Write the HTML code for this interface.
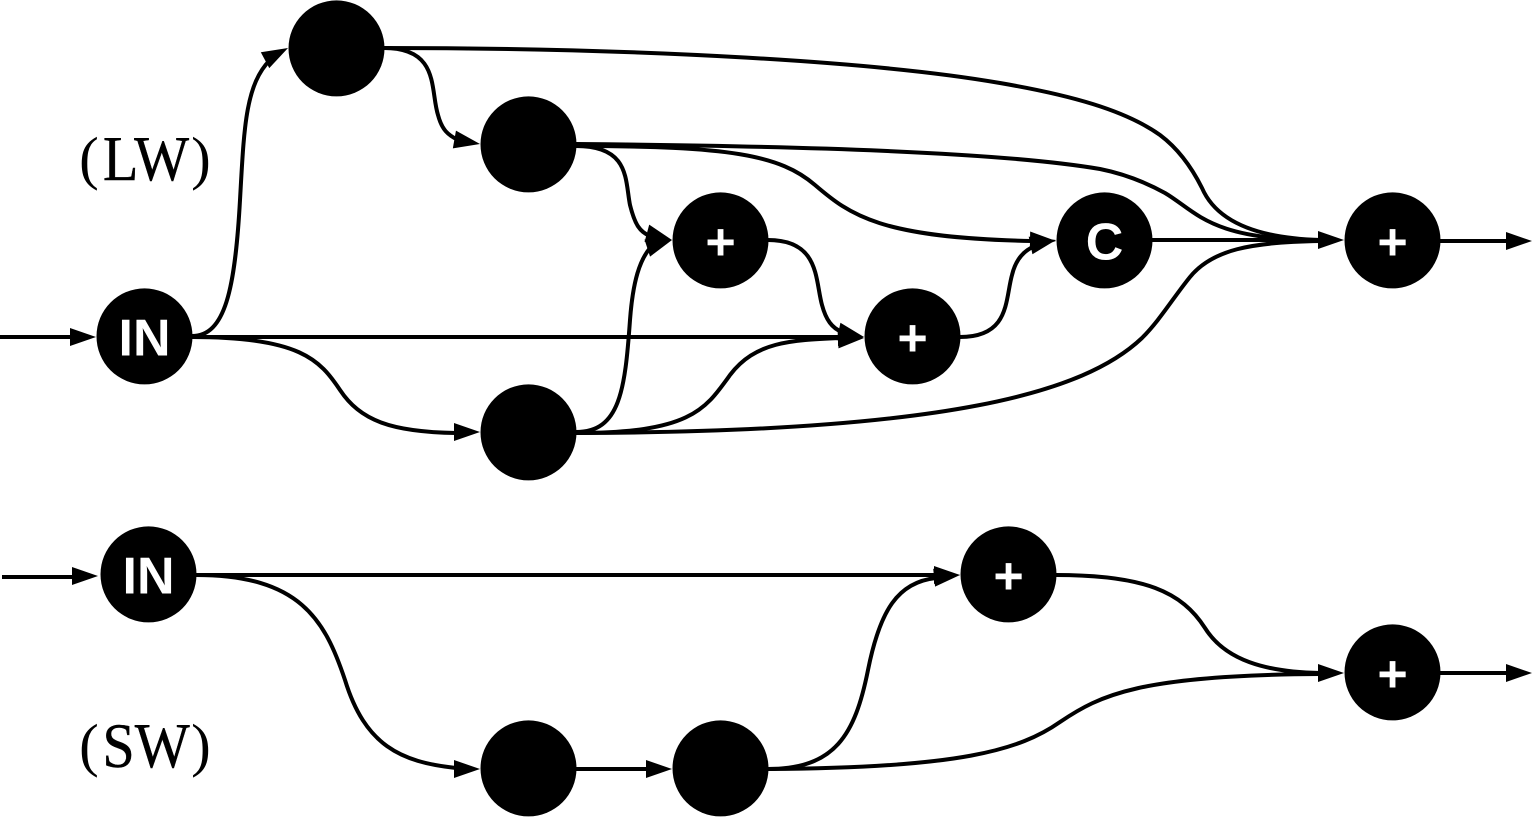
<!DOCTYPE html>
<html>
<head>
<meta charset="utf-8">
<style>
html,body{margin:0;padding:0;background:#fff;}
svg{display:block;}
.e{fill:none;stroke:#000;stroke-width:4;}
.n{font-family:"Liberation Sans",sans-serif;font-weight:bold;font-size:52px;fill:#fff;text-anchor:middle;}
.l{font-family:"Liberation Serif",serif;font-size:64px;fill:#000;text-anchor:middle;stroke:#000;stroke-width:.4px;}
.p{font-family:"Liberation Serif",serif;font-size:59px;fill:#000;text-anchor:middle;}
</style>
</head>
<body>
<svg width="1533" height="817" viewBox="0 0 1533 817" xmlns="http://www.w3.org/2000/svg">
<defs><polygon id="a" points="0,0 -26,-9 -26,9" fill="#000"/></defs>
<g class="e">
<path class="e" d="M0 337H72"/>
<path class="e" d="M192 336C225 336 235 290 240 200C244 130 245 85 270 60"/>
<path class="e" d="M384 48C440 48 430 90 438 115C442 130 448 135 458 140"/>
<path class="e" d="M192 337C300 337 320 360 340 390C360 420 390 432 456 433"/>
<path class="e" d="M192 337H840"/>
<path class="e" d="M576 146C630 146 625 180 630 205C635 225 640 232 650 236"/>
<path class="e" d="M576 432C620 432 625 390 630 320C633 280 640 260 650 248"/>
<path class="e" d="M768 240C820 240 815 280 822 305C826 320 832 328 842 332"/>
<path class="e" d="M576 433C690 433 705 410 730 375C755 342 790 340 840 338"/>
<path class="e" d="M576 433C950 432 1085 392 1142 338C1160 320 1173 298 1190 277C1212 250 1250 242 1320 241"/>
<path class="e" d="M384 48C650 48 880 62 1000 83C1070 95 1125 110 1160 135C1180 150 1193 170 1202 188C1215 218 1250 238 1320 240"/>
<path class="e" d="M576 144C800 146 1000 152 1100 169C1125 174 1145 182 1165 193C1197 212 1210 240 1320 240"/>
<path class="e" d="M576 146C730 146 780 155 815 185C850 215 880 238 1032 241"/>
<path class="e" d="M960 337C1010 337 1005 300 1012 275C1016 258 1025 250 1035 246"/>
<path class="e" d="M1152 240H1320"/>
<path class="e" d="M1440 241H1508"/>
<path class="e" d="M2 577H74"/>
<path class="e" d="M196 575H936"/>
<path class="e" d="M196 575C300 575 325 620 345 680C365 745 400 762 456 768"/>
<path class="e" d="M576 769H648"/>
<path class="e" d="M768 769C835 769 855 735 868 670C880 610 898 582 936 578"/>
<path class="e" d="M768 769C960 768 1020 750 1060 722C1100 695 1140 675 1320 674"/>
<path class="e" d="M1056 575C1145 575 1182 592 1205 628C1225 660 1265 672 1320 673"/>
<path class="e" d="M1440 673H1508"/>
</g>
<use href="#a" transform="translate(96 337)"/>
<use href="#a" transform="translate(288 48) rotate(-28)"/>
<use href="#a" transform="translate(480 144) rotate(10)"/>
<use href="#a" transform="translate(480 432)"/>
<use href="#a" transform="translate(864 337)"/>
<use href="#a" transform="translate(672 240) rotate(15)"/>
<use href="#a" transform="translate(672 240) rotate(-18)"/>
<use href="#a" transform="translate(864 337) rotate(12)"/>
<use href="#a" transform="translate(864 338) rotate(-3)"/>
<use href="#a" transform="translate(1056 240) rotate(-12)"/>
<use href="#a" transform="translate(1056 241) rotate(1)"/>
<use href="#a" transform="translate(1344 240)"/>
<use href="#a" transform="translate(1532 241)"/>
<use href="#a" transform="translate(98 576)"/>
<use href="#a" transform="translate(960 575)"/>
<use href="#a" transform="translate(960 575) rotate(-6)"/>
<use href="#a" transform="translate(480 769)"/>
<use href="#a" transform="translate(672 769)"/>
<use href="#a" transform="translate(1344 673)"/>
<use href="#a" transform="translate(1532 673)"/>
<g transform="translate(.5 .4)">
<g fill="#000">
<circle cx="336" cy="48" r="48"/>
<circle cx="528" cy="144" r="48"/>
<circle cx="720" cy="240" r="48"/>
<circle cx="912" cy="336" r="48"/>
<circle cx="1104" cy="240" r="48"/>
<circle cx="1392" cy="240" r="48"/>
<circle cx="144" cy="336" r="48"/>
<circle cx="528" cy="432" r="48"/>
<circle cx="148" cy="574" r="48"/>
<circle cx="1008" cy="574" r="48"/>
<circle cx="1392" cy="672" r="48"/>
<circle cx="528" cy="768" r="48"/>
<circle cx="720" cy="768" r="48"/>
</g>
<text class="n" x="144" y="355">IN</text>
<text class="n" x="148" y="593">IN</text>
<text class="n" x="720" y="259">+</text>
<text class="n" x="912" y="355">+</text>
<text class="n" x="1392" y="259">+</text>
<text class="n" x="1008" y="593">+</text>
<text class="n" x="1392" y="691">+</text>
<text class="n" x="1104" y="259">C</text>
</g>
<text class="l" transform="translate(146 180) scale(.91 1)">LW</text>
<text class="p" x="89" y="178">(</text>
<text class="p" x="201" y="178">)</text>
<text class="l" transform="translate(146 767) scale(.91 1)">SW</text>
<text class="p" x="89" y="765">(</text>
<text class="p" x="201" y="765">)</text>
</svg>
</body>
</html>
